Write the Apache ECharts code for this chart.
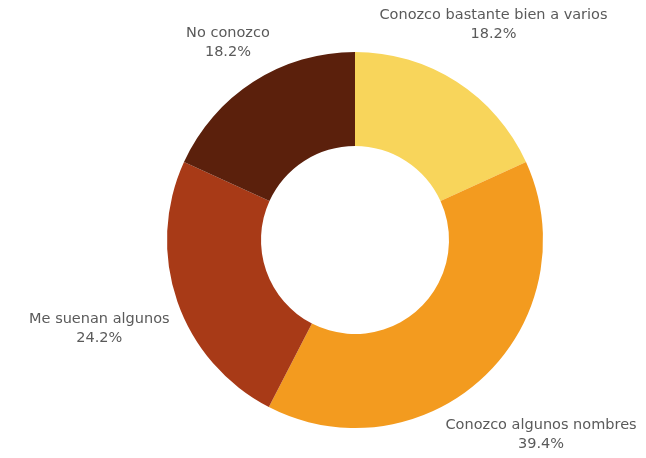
<!DOCTYPE html>
<html>
<head>
<meta charset="utf-8">
<script src="https://cdn.jsdelivr.net/npm/echarts@6/dist/echarts.min.js"></script>
<style>html,body{margin:0;padding:0;background:#fff;}#c{width:646px;height:458px;}</style>
</head>
<body>
<div id="c"></div>
<script>
const categories = ['Conozco bastante bien a varios', 'Conozco algunos nombres', 'Me suenan algunos', 'No conozco'];
const values = [6, 13, 8, 6];
const colors = ['#F8D55B', '#F39B1F', '#A83A17', '#5B200C'];

const CX = 355, CY = 240, R = 188, RIN = 94;
const GAP = 198;

const total = values.reduce((a, b) => a + b, 0);
const midAngles = [];
let acc = 0;
values.forEach(v => { midAngles.push((acc + v / 2) / total * 2 * Math.PI); acc += v; });

function boxDist(t, ux, uy, a, b) {
  const dx = Math.max(0, Math.abs(t * ux) - a);
  const dy = Math.max(0, Math.abs(t * uy) - b);
  return Math.sqrt(dx * dx + dy * dy);
}

const chart = echarts.init(document.getElementById('c'), null, {renderer: 'canvas'});
chart.setOption({
  animation: false,
  backgroundColor: '#ffffff',
  color: colors,
  series: [{
    type: 'pie',
    center: [CX, CY],
    radius: [RIN, R],
    startAngle: 90,
    clockwise: true,
    percentPrecision: 1,
    avoidLabelOverlap: false,
    label: {
      show: true,
      position: 'outside',
      formatter: '{b}\n{d}%',
      color: '#5a5a5a',
      fontFamily: 'DejaVu Sans',
      fontSize: 14.5,
      lineHeight: 19
    },
    labelLine: { show: false },
    labelLayout: function (params) {
      const ang = midAngles[params.dataIndex];
      const ux = Math.sin(ang), uy = -Math.cos(ang);
      const a = params.labelRect.width / 2, b = params.labelRect.height / 2;
      let lo = 0, hi = 600;
      for (let i = 0; i < 60; i++) {
        const m = (lo + hi) / 2;
        if (boxDist(m, ux, uy, a, b) < GAP) lo = m; else hi = m;
      }
      return { x: CX + lo * ux, y: CY + lo * uy, align: 'center', verticalAlign: 'middle' };
    },
    emphasis: { disabled: true },
    itemStyle: { borderWidth: 0 },
    data: categories.map((c, i) => ({ name: c, value: values[i] }))
  }]
});
</script>
</body>
</html>
